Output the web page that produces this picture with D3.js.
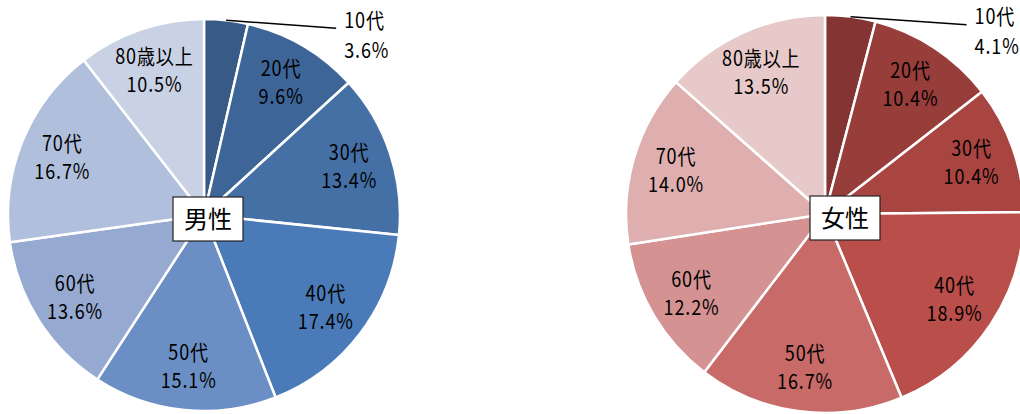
<!DOCTYPE html>
<html>
<head>
<meta charset="utf-8">
<script src="https://cdn.jsdelivr.net/npm/d3@7"></script>
<style>
  body { margin: 0; background: #fff; }
  svg { display: block; }
</style>
</head>
<body>
<div id="chart"></div>
<script>
const ageGroups = ["10代", "20代", "30代", "40代", "50代", "60代", "70代", "80歳以上"];
const maleShare = [3.6, 9.6, 13.4, 17.4, 15.1, 13.6, 16.7, 10.5];
const femaleShare = [4.1, 10.4, 10.4, 18.9, 16.7, 12.2, 14.0, 13.5];
const maleColors = ["#375a87", "#3e6598", "#4470a6", "#4a7bb8", "#6b8fc5", "#95a9d1", "#b0c0dc", "#c9d2e5"];
const femaleColors = ["#843533", "#973d3a", "#a94541", "#b94e4a", "#c76a68", "#d49392", "#dfafaf", "#e7c9c9"];

const width = 1020, height = 414;
const fontFamily = "'Noto Sans CJK JP', sans-serif";

const svg = d3.select("#chart")
  .append("svg")
    .attr("width", width)
    .attr("height", height);

function drawPie(cfg) {
  const g = svg.append("g")
    .attr("transform", `translate(${cfg.cx}, ${cfg.cy})`);

  const pie = d3.pie().sort(null).value(d => d.value);
  const arcs = pie(cfg.values.map((v, i) => ({ label: ageGroups[i], value: v, color: cfg.colors[i] })));

  const arc = d3.arc().innerRadius(0).outerRadius(cfg.r);
  const labelArc = d3.arc().innerRadius(cfg.r * 0.78).outerRadius(cfg.r * 0.78);
  const edgeArc = d3.arc().innerRadius(cfg.r).outerRadius(cfg.r);

  g.selectAll("path.slice")
    .data(arcs)
    .join("path")
      .attr("class", "slice")
      .attr("d", arc)
      .attr("fill", d => d.data.color)
      .attr("stroke", "#fff")
      .attr("stroke-width", 2.5)
      .attr("stroke-linejoin", "round");

  // inside labels (all but the first slice)
  const inner = g.selectAll("g.lbl")
    .data(arcs.slice(1))
    .join("g")
      .attr("class", "lbl")
      .attr("transform", d => {
        const [x, y] = labelArc.centroid(d);
        return `translate(${x}, ${y}) scale(0.86, 1)`;
      });
  inner.append("text")
    .attr("text-anchor", "middle")
    .attr("y", -14)
    .attr("dy", "0.35em")
    .attr("font-family", fontFamily)
    .attr("font-size", "21px")
    .attr("letter-spacing", "1px")
    .attr("fill", "#000")
    .text(d => d.data.label);
  inner.append("text")
    .attr("text-anchor", "middle")
    .attr("y", 14)
    .attr("dy", "0.35em")
    .attr("font-family", fontFamily)
    .attr("font-size", "21px")
    .attr("letter-spacing", "1px")
    .attr("fill", "#000")
    .text(d => d.data.value.toFixed(1) + "%");

  // first slice: outside label with leader line
  const first = arcs[0];
  const [sx, sy] = edgeArc.centroid(first);
  const ex = sx + cfg.leader[0], ey = sy + cfg.leader[1];
  g.append("line")
    .attr("x1", sx).attr("y1", sy)
    .attr("x2", ex).attr("y2", ey)
    .attr("stroke", "#000")
    .attr("stroke-width", 1.5);
  const outer = g.append("g")
    .attr("transform", `translate(${ex + 8}, ${ey}) scale(0.86, 1)`);
  outer.append("text")
    .attr("y", -8)
    .attr("dy", "0.35em")
    .attr("font-family", fontFamily)
    .attr("font-size", "21px")
    .attr("letter-spacing", "1px")
    .text(first.data.label);
  outer.append("text")
    .attr("y", 22)
    .attr("dy", "0.35em")
    .attr("font-family", fontFamily)
    .attr("font-size", "21px")
    .attr("letter-spacing", "1px")
    .text(first.data.value.toFixed(1) + "%");

  // title box in the middle
  const box = g.append("g")
    .attr("transform", `translate(${cfg.boxOffset[0]}, ${cfg.boxOffset[1]})`);
  box.append("rect")
    .attr("x", -35).attr("y", -22)
    .attr("width", 70).attr("height", 44)
    .attr("fill", "#fff")
    .attr("stroke", "#222")
    .attr("stroke-width", 1.2);
  box.append("text")
    .attr("text-anchor", "middle")
    .attr("dy", "0.36em")
    .attr("font-family", fontFamily)
    .attr("font-size", "24px")
    .attr("fill", "#000")
    .text(cfg.title);
}

drawPie({ title: "男性", values: maleShare, colors: maleColors,
  cx: 204, cy: 215, r: 196, leader: [110, 8], boxOffset: [4, 4] });
drawPie({ title: "女性", values: femaleShare, colors: femaleColors,
  cx: 825, cy: 214, r: 199, leader: [116, 8], boxOffset: [20, 4] });
</script>
</body>
</html>
